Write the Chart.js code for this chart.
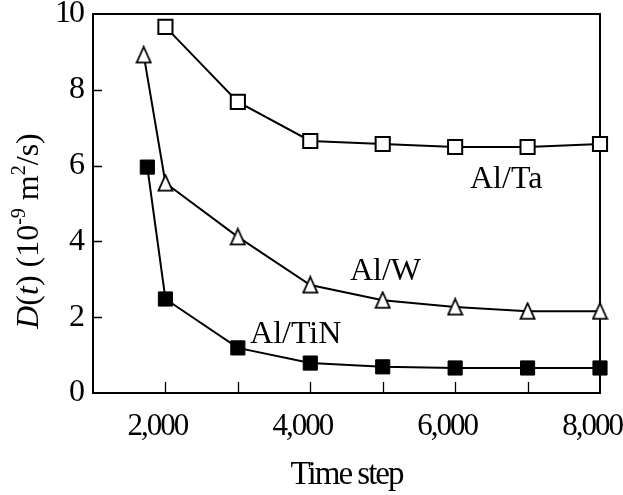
<!DOCTYPE html>
<html>
<head>
<meta charset="utf-8">
<script src="https://cdn.jsdelivr.net/npm/chart.js@4/dist/chart.umd.min.js"></script>
<style>
  html, body { margin: 0; padding: 0; background: #fff; }
  #wrap { width: 623px; height: 495px; }
</style>
</head>
<body>
<div id="wrap"><canvas id="c" width="623" height="495"></canvas></div>
<script>
// ---- data ----
const alTaX = [2000, 3000, 4000, 5000, 6000, 7000, 8000];
const alTaY = [9.66, 7.68, 6.65, 6.57, 6.49, 6.49, 6.57];
const alWX = [1700, 2000, 3000, 4000, 5000, 6000, 7000, 8000];
const alWY = [8.92, 5.54, 4.12, 2.85, 2.45, 2.27, 2.16, 2.16];
const alTiNX = [1750, 2000, 3000, 4000, 5000, 6000, 7000, 8000];
const alTiNY = [5.96, 2.48, 1.19, 0.79, 0.69, 0.66, 0.66, 0.66];
const xLabelTicks = [2000, 4000, 6000, 8000];
const seriesLabels = ['Al/Ta', 'Al/W', 'Al/TiN'];
const labelPosX = [6205, 4548, 3168];
const labelPosY = [5.41, 2.98, 1.32];
const xTitle = 'Time step';

const SERIF = '"Liberation Serif", "Times New Roman", serif';

function pts(xs, ys) { return xs.map((x, i) => ({ x: x, y: ys[i] })); }

// triangle marker
const tri = document.createElement('canvas');
tri.width = 17; tri.height = 19;
(function () {
  const g = tri.getContext('2d');
  g.fillStyle = '#fff'; g.strokeStyle = '#000'; g.lineWidth = 1.8; g.lineJoin = 'miter';
  g.beginPath();
  g.moveTo(8.5, 1.5); g.lineTo(15.5, 17.2); g.lineTo(1.5, 17.2); g.closePath();
  g.fill(); g.stroke();
})();

const framePlugin = {
  id: 'frame',
  beforeDraw(chart) {
    if ('letterSpacing' in chart.ctx) chart.ctx.letterSpacing = '-2px';
  },
  beforeDatasetsDraw(chart) {
    const ctx = chart.ctx, a = chart.chartArea;
    const xs = chart.scales.x, ys = chart.scales.y;
    ctx.save();
    ctx.strokeStyle = '#000';
    ctx.lineWidth = 2;
    ctx.strokeRect(a.left, a.top, a.right - a.left, a.bottom - a.top);
    ctx.lineWidth = 1.3;
    ctx.beginPath();
    xs.ticks.forEach(t => {
      const px = Math.round(xs.getPixelForValue(t.value)) + 0.5;
      if (px <= a.left + 2 || px >= a.right - 2) return;
      ctx.moveTo(px, a.bottom); ctx.lineTo(px, a.bottom - 11);
    });
    ys.ticks.forEach(t => {
      const py = Math.round(ys.getPixelForValue(t.value)) + 0.5;
      if (py <= a.top + 2 || py >= a.bottom - 2) return;
      ctx.moveTo(a.left, py); ctx.lineTo(a.left + 9, py);
    });
    ctx.stroke();
    ctx.restore();
  },
  afterDraw(chart) {
    const ctx = chart.ctx;
    const xs = chart.scales.x, ys = chart.scales.y;
    ctx.save();
    if ('letterSpacing' in ctx) ctx.letterSpacing = '0px';
    ctx.fillStyle = '#000';
    ctx.textBaseline = 'alphabetic';
    ctx.textAlign = 'left';
    ctx.font = '32px ' + SERIF;
    seriesLabels.forEach((s, i) => {
      ctx.fillText(s, xs.getPixelForValue(labelPosX[i]), ys.getPixelForValue(labelPosY[i]));
    });
    // y axis title
    const parts = [
      { t: 'D', f: 'italic 32px ' + SERIF, dy: 0 },
      { t: '(', f: '32px ' + SERIF, dy: 0 },
      { t: 't', f: 'italic 32px ' + SERIF, dy: 0 },
      { t: ') (10', f: '32px ' + SERIF, dy: 0 },
      { t: '-9', f: '20px ' + SERIF, dy: -13 },
      { t: ' m', f: '32px ' + SERIF, dy: 0 },
      { t: '2', f: '20px ' + SERIF, dy: -13 },
      { t: '/s)', f: '32px ' + SERIF, dy: 0 }
    ];
    let total = 0;
    parts.forEach(p => { ctx.font = p.f; p.w = ctx.measureText(p.t).width; total += p.w; });
    ctx.translate(38, 231);
    ctx.rotate(-Math.PI / 2);
    let x = -total / 2;
    parts.forEach(p => { ctx.font = p.f; ctx.fillText(p.t, x, p.dy); x += p.w; });
    ctx.restore();
  }
};

new Chart(document.getElementById('c'), {
  type: 'line',
  data: {
    datasets: [
      { label: seriesLabels[0], data: pts(alTaX, alTaY), borderColor: '#000', borderWidth: 2,
        pointStyle: 'rect', pointRadius: 10, pointBackgroundColor: '#fff', pointBorderColor: '#000',
        pointBorderWidth: 2, clip: false, tension: 0 },
      { label: seriesLabels[1], data: pts(alWX, alWY), borderColor: '#000', borderWidth: 2,
        pointStyle: tri, pointRadius: 9, clip: false, tension: 0 },
      { label: seriesLabels[2], data: pts(alTiNX, alTiNY), borderColor: '#000', borderWidth: 2,
        pointStyle: 'rect', pointRadius: 10, pointBackgroundColor: '#000', pointBorderColor: '#000',
        pointBorderWidth: 1, clip: false, tension: 0 }
    ]
  },
  options: {
    responsive: false,
    animation: false,
    devicePixelRatio: 1,
    layout: { padding: { top: 14, right: 23, left: 0, bottom: 0 } },
    plugins: { legend: { display: false }, tooltip: { enabled: false } },
    scales: {
      x: {
        type: 'linear', min: 1000, max: 8000,
        grid: { display: false, drawTicks: false },
        border: { display: false },
        ticks: {
          stepSize: 1000, autoSkip: false, maxRotation: 0, padding: 15, labelOffset: -8,
          color: '#000', font: { family: SERIF, size: 31 },
          callback: v => xLabelTicks.includes(v) ? v.toLocaleString('en-US') : ''
        },
        title: { display: true, text: xTitle, color: '#000', font: { family: SERIF, size: 33 },
          padding: { top: 0, bottom: 0 } },
        afterFit(s) { s.height = 102; s.paddingLeft = 0; s.paddingRight = 0; }
      },
      y: {
        min: 0, max: 10,
        grid: { display: false, drawTicks: false },
        border: { display: false },
        ticks: { stepSize: 2, padding: 10, color: '#000', font: { family: SERIF, size: 32 } },
        afterFit(s) { s.width = 93; s.paddingTop = 0; s.paddingBottom = 0; }
      }
    }
  },
  plugins: [framePlugin]
});
</script>
</body>
</html>
